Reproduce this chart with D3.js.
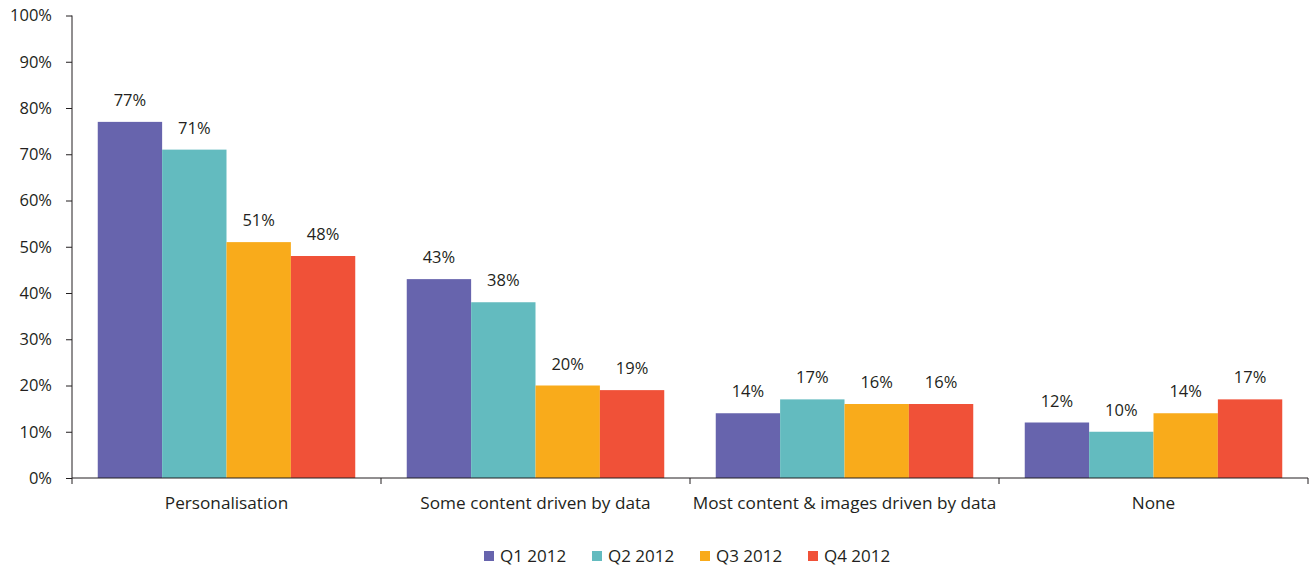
<!DOCTYPE html>
<html>
<head>
<meta charset="utf-8">
<script src="https://cdn.jsdelivr.net/npm/d3@7"></script>
<style>
  html, body { margin: 0; padding: 0; background: #fff; }
  svg text { font-family: "Open Sans", "Noto Sans", sans-serif; fill: #231f20; }
</style>
</head>
<body>
<svg id="chart" width="1314" height="568"></svg>
<script>
// Share of respondents by data-driven content approach, per quarter
const categories = ["Personalisation", "Some content driven by data", "Most content & images driven by data", "None"];
const seriesNames = ["Q1 2012", "Q2 2012", "Q3 2012", "Q4 2012"];
const q1 = [77, 43, 14, 12];
const q2 = [71, 38, 17, 10];
const q3 = [51, 20, 16, 14];
const q4 = [48, 19, 16, 17];
const yTicks = [0, 10, 20, 30, 40, 50, 60, 70, 80, 90, 100];
const colors = ["#6764ad", "#63bbbf", "#f9ab1b", "#f05138"];

const seriesValues = [q1, q2, q3, q4];

const svg = d3.select("#chart");
const plotLeft = 72, plotRight = 1308, plotTop = 15.5, plotBottom = 478;

const x0 = d3.scaleBand().domain(categories).range([plotLeft, plotRight]).padding(0);
const x1 = d3.scaleBand().domain(seriesNames).range([0, x0.bandwidth()])
  .paddingInner(0).paddingOuter(0.4);
const y = d3.scaleLinear().domain([0, 100]).range([plotBottom, plotTop]);
const color = d3.scaleOrdinal().domain(seriesNames).range(colors);

// Bars
const groups = svg.append("g").selectAll("g")
  .data(categories)
  .join("g")
  .attr("transform", d => `translate(${x0(d)},0)`);

groups.selectAll("rect")
  .data((c, ci) => seriesNames.map((s, si) => ({ s, v: seriesValues[si][ci] })))
  .join("rect")
  .attr("x", d => x1(d.s))
  .attr("width", x1.bandwidth())
  .attr("y", d => y(d.v))
  .attr("height", d => y(0) - y(d.v))
  .attr("fill", d => color(d.s));

// Value labels
groups.selectAll("text.val")
  .data((c, ci) => seriesNames.map((s, si) => ({ s, v: seriesValues[si][ci] })))
  .join("text")
  .attr("class", "val")
  .attr("x", d => x1(d.s) + x1.bandwidth() / 2)
  .attr("y", d => y(d.v) - 16)
  .attr("text-anchor", "middle")
  .attr("font-size", 16.5)
  .text(d => d.v + "%");

// Y axis
const yAxis = svg.append("g")
  .attr("transform", `translate(${plotLeft},0)`)
  .call(d3.axisLeft(y).tickValues(yTicks).tickSize(6).tickPadding(14)
    .tickFormat(d => d + "%"));
yAxis.selectAll("text").attr("font-size", 16.5).attr("fill", "#231f20")
  .style("font-family", '"Open Sans", "Noto Sans", sans-serif');
yAxis.selectAll("line, path").attr("stroke", "#231f20");
yAxis.select(".domain").attr("d", `M0,${plotBottom}V${plotTop}`);

// X axis with boundary ticks between categories
const xAxis = svg.append("g").attr("transform", `translate(0,${plotBottom})`);
xAxis.append("line").attr("x1", plotLeft).attr("x2", plotRight).attr("y1", 0).attr("y2", 0)
  .attr("stroke", "#231f20");
const boundaries = categories.map(c => x0(c)).concat([x0(categories[categories.length - 1]) + x0.bandwidth()]);
xAxis.selectAll("line.tick").data(boundaries).join("line")
  .attr("class", "tick")
  .attr("x1", d => d).attr("x2", d => d).attr("y1", 0).attr("y2", 6)
  .attr("stroke", "#231f20");
xAxis.selectAll("text").data(categories).join("text")
  .attr("x", d => x0(d) + x0.bandwidth() / 2)
  .attr("y", 31)
  .attr("text-anchor", "middle")
  .attr("font-size", 17.2)
  .text(d => d);

// Legend
const legendX = d3.scaleOrdinal().domain(seriesNames).range([484, 592, 700, 808]);
const legend = svg.append("g").selectAll("g").data(seriesNames).join("g")
  .attr("transform", d => `translate(${legendX(d)},551)`);
legend.append("rect").attr("width", 10).attr("height", 10).attr("fill", d => color(d));
legend.append("text").attr("x", 16).attr("y", 11).attr("font-size", 17).text(d => d);
</script>
</body>
</html>
